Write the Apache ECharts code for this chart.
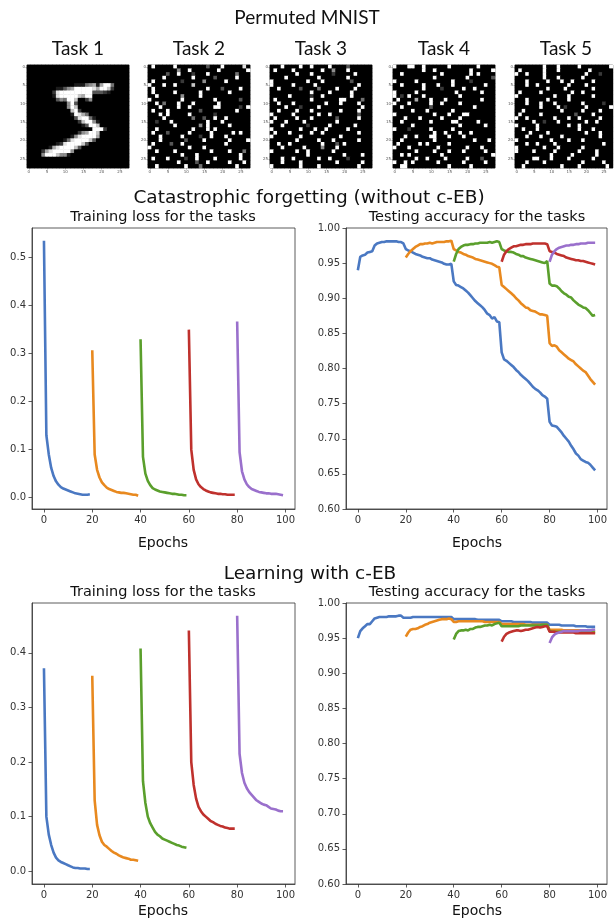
<!DOCTYPE html>
<html><head><meta charset="utf-8">
<script src="https://cdn.jsdelivr.net/npm/echarts@6/dist/echarts.min.js"></script>
<style>html,body{margin:0;padding:0;background:#fff}#c{width:614px;height:920px}</style>
</head><body><div id="c"></div>
<script>
// ---------- DATA ----------
const taskNames = ['Task 1', 'Task 2', 'Task 3', 'Task 4', 'Task 5'];
const pixelTicks = [0, 5, 10, 15, 20, 25];
const epochTicks = [0, 20, 40, 60, 80, 100];
const lossTicksTop = [0, 0.1, 0.2, 0.3, 0.4, 0.5];
const lossTicksBottom = [0, 0.1, 0.2, 0.3, 0.4];
const accTicks = [0.60, 0.65, 0.70, 0.75, 0.80, 0.85, 0.90, 0.95, 1.00];
const taskStarts = [0, 20, 40, 60, 80];

// Task 1 digit: [row, firstCol, intensities 0-9]
const digitRows = [
  [5, 12, '.11145616994'],
  [6, 8, '1135699999869972'],
  [7, 7, '2899999999933321'],
  [8, 7, '18999997699'],
  [9, 8, '354997..25'],
  [10, 9, '..593'],
  [11, 11, '597'],
  [12, 11, '.792'],
  [13, 12, '19864'],
  [14, 13, '389941'],
  [15, 14, '279951'],
  [16, 15, '13997'],
  [17, 18, '9992'],
  [18, 14, '256997'],
  [19, 12, '15899996'],
  [20, 10, '148999973'],
  [21, 8, '128999973'],
  [22, 6, '168999973'],
  [23, 4, '268999995'],
  [24, 4, '59997551']
];
// Permuted tasks (rows, '.' = black, 1-9 = grey level)
const perm2 = [
  '.9.....9........3...9.....8.', '........5..9.......9.......9', '.....3..9...2...9.......4...',
  '....9.......9.....3.....9...', '.9.......2.....5.....9......', '9...9..9....7...............',
  '.9..............9...3....9..', '.9.....9......9.......9.....', '..9......5....9.............',
  '9........9........9......3..', '..9.4...9...9......9........', '...9....9..9......99.....2.9',
  '.9...9........3.........9...', '...9.9.....9......2.........', '....9.......4..3..9..9......',
  '..2...9.........9...9.......', '.......9......5.9.....9.....', '..9.........9...9.9.........',
  '.9...3.....9.....9.....9.9..', '...9.....9....2..9...9......', '...9......3....9......9....9',
  '.9....3..9...........9......', '9..........9...9............', '..9....9.........9....9...4.',
  '.........9...9...........9..', '.9...9....2..9....9......9..', '........9....3..9.....9...9.',
  '..9.......9...4.........9...'
];
const perm3 = [
  '...9....9..9....9....3......', '.9....9.......9..5...9......', '.......9...9.....2.....9....',
  '....9........9.......9......', '9.........9...9.......3.....', '9.....9.....9...........9...',
  '..9.....3....4....9....9....', '...........9....9.....9.....', '.....9.....2..9.......9.....',
  '.9.........9.......99....4..', '..9...9........9...9....9...', '....9...2....9...........9..',
  '..9....9...9.......9....9...', '9.....9......9..9.......3...', '.9.....9...9......3.....9...',
  '9...9....9........9.........', '...9......2.....9......9....', '9.......9...9..9.....9......',
  '.9...9.....9..9.........9...', '9.......9..........9........', '.......9.....9...9......9...',
  '..9..9........9...3.9.......', '...9.....9....5...9.........', '9......9..9......9..........',
  '..........9.........9....9..', '...9..9......9..9....2......', '...9....9.........9......9..',
  '9.......9....9..........9...'
];
const perm4 = [
  '9...99..9......9.......9....', '........9..9.........9.....9', '..9..........9.......9.9....',
  '...........9........9......3', '9.....9.........9....2......', '..9.....9...9...9........9..',
  '........9....2.....9..9.....', '9.....9..........9......9...', '9.2.9...9.........9.........',
  '.9....6...9...9.........9...', '9...9.....9..9....9.........', '..9.......3...........9.....',
  '.....9...9......9...........', '9..........9...9...99.......', '...9...9.....9....9.........',
  '..9.......9.....99.....9....', '.....9............9......9..', '9...2.....9.....9...........',
  '...........9..9...9..9......', '...9..9...99...9...9........', '..9........9..........9...9.',
  '.9.....9.9.....9............', '9...9.......9.......9...9...', '......9....9...9...9.....9..',
  '..9.9........9.............9', '......9..9....9.....9...3...', '9..9.9......9......9.....9..',
  '..99...........9.....9......'
];
const perm5 = [
  '........9...9.....9........9', '.9......9...9........9......', '9..9....9...........9...2...',
  '........9...9......9........', '...9.....9...9..9.....9.....', '...9..9........9....9.......',
  '.........9....9.......9.....', '.9.....9........9..9........', '9..........9...9......9.....',
  '...9.....9.....9............', '...9...9...9.......9.....2..', '.......9....9.2.....9......9',
  '..9..........9.....9....9...', '.9.....9.........3....9.....', '9..9.......9...9..9.....9...',
  '.....9..2...9.......9..9....', '9.....9........9..9.........', '..9...9...........9...9.....',
  '....9....9..........9...9...', '...9...9.....9..........9...', '9.........9....9...9........',
  '...9..9....9.............9..', '9.......9...9......9........', '9....9.....9......9....9....',
  '..........9.....9......9....', '.....99...9....9......9.....', '...9....9..........9.....9..',
  '..9..........9....9.......9.'
];

// Catastrophic forgetting: training loss per task (20 epochs each)
const cfLoss1 = [0.535, 0.13, 0.09, 0.062, 0.045, 0.034, 0.027, 0.022, 0.019, 0.017, 0.015, 0.013, 0.011, 0.009, 0.008, 0.007, 0.006, 0.006, 0.006, 0.007];
const cfLoss2 = [0.307, 0.09, 0.058, 0.042, 0.032, 0.026, 0.021, 0.018, 0.016, 0.014, 0.012, 0.011, 0.010, 0.010, 0.009, 0.008, 0.007, 0.006, 0.006, 0.004];
const cfLoss3 = [0.330, 0.085, 0.050, 0.035, 0.026, 0.020, 0.017, 0.015, 0.013, 0.012, 0.011, 0.010, 0.009, 0.008, 0.008, 0.007, 0.006, 0.006, 0.005, 0.005];
const cfLoss4 = [0.350, 0.10, 0.058, 0.038, 0.028, 0.022, 0.018, 0.015, 0.013, 0.011, 0.010, 0.009, 0.008, 0.008, 0.007, 0.007, 0.006, 0.006, 0.006, 0.006];
const cfLoss5 = [0.367, 0.095, 0.055, 0.038, 0.028, 0.022, 0.018, 0.016, 0.014, 0.012, 0.011, 0.010, 0.009, 0.009, 0.008, 0.008, 0.008, 0.007, 0.006, 0.005];

// Catastrophic forgetting: testing accuracy of each task from its start to epoch 99
const cfAcc1 = [0.940, 0.959, 0.961, 0.962, 0.965, 0.966, 0.967, 0.975, 0.978, 0.979, 0.980, 0.980, 0.981, 0.981, 0.981, 0.981, 0.981, 0.980, 0.980, 0.978,
  0.970, 0.968, 0.967, 0.965, 0.963, 0.962, 0.961, 0.959, 0.958, 0.957, 0.957, 0.955, 0.954, 0.953, 0.952, 0.951, 0.949, 0.948, 0.948, 0.949,
  0.924, 0.919, 0.918, 0.916, 0.914, 0.911, 0.908, 0.904, 0.900, 0.896, 0.893, 0.890, 0.887, 0.883, 0.878, 0.876, 0.871, 0.873, 0.867, 0.866,
  0.823, 0.813, 0.811, 0.808, 0.805, 0.802, 0.798, 0.795, 0.791, 0.788, 0.785, 0.782, 0.778, 0.774, 0.771, 0.769, 0.766, 0.762, 0.760, 0.757,
  0.724, 0.719, 0.718, 0.717, 0.713, 0.709, 0.704, 0.700, 0.696, 0.690, 0.685, 0.679, 0.676, 0.671, 0.669, 0.667, 0.666, 0.663, 0.659, 0.655];
const cfAcc2 = [0.958, 0.963, 0.967, 0.970, 0.973, 0.975, 0.977, 0.977, 0.978, 0.978, 0.979, 0.978, 0.979, 0.980, 0.980, 0.980, 0.980, 0.981, 0.981, 0.982,
  0.970, 0.968, 0.966, 0.965, 0.963, 0.962, 0.960, 0.959, 0.958, 0.956, 0.955, 0.954, 0.953, 0.952, 0.951, 0.950, 0.949, 0.947, 0.945, 0.944,
  0.919, 0.916, 0.913, 0.910, 0.907, 0.904, 0.900, 0.897, 0.893, 0.890, 0.887, 0.886, 0.883, 0.882, 0.881, 0.879, 0.877, 0.877, 0.876, 0.875,
  0.836, 0.832, 0.833, 0.831, 0.826, 0.823, 0.820, 0.817, 0.814, 0.812, 0.810, 0.806, 0.803, 0.800, 0.797, 0.795, 0.790, 0.785, 0.781, 0.777];
const cfAcc3 = [0.952, 0.963, 0.970, 0.973, 0.975, 0.976, 0.976, 0.977, 0.977, 0.978, 0.978, 0.979, 0.979, 0.979, 0.979, 0.980, 0.979, 0.980, 0.981, 0.980,
  0.970, 0.968, 0.967, 0.966, 0.966, 0.965, 0.963, 0.962, 0.960, 0.960, 0.958, 0.957, 0.956, 0.955, 0.954, 0.953, 0.952, 0.951, 0.950, 0.953,
  0.921, 0.918, 0.918, 0.917, 0.914, 0.910, 0.907, 0.905, 0.902, 0.901, 0.897, 0.894, 0.891, 0.889, 0.887, 0.886, 0.883, 0.879, 0.875, 0.876];
const cfAcc4 = [0.952, 0.962, 0.967, 0.970, 0.972, 0.974, 0.974, 0.975, 0.976, 0.976, 0.977, 0.977, 0.977, 0.978, 0.978, 0.978, 0.978, 0.978, 0.978, 0.977,
  0.967, 0.966, 0.965, 0.963, 0.962, 0.961, 0.960, 0.958, 0.957, 0.956, 0.955, 0.954, 0.954, 0.953, 0.953, 0.952, 0.951, 0.950, 0.949, 0.948];
const cfAcc5 = [0.952, 0.962, 0.967, 0.970, 0.972, 0.973, 0.974, 0.975, 0.975, 0.976, 0.976, 0.977, 0.977, 0.978, 0.978, 0.978, 0.979, 0.979, 0.979, 0.979];

// Learning with c-EB: training loss
const ebLoss1 = [0.372, 0.10, 0.067, 0.048, 0.034, 0.025, 0.020, 0.017, 0.015, 0.013, 0.011, 0.009, 0.007, 0.006, 0.006, 0.005, 0.005, 0.005, 0.004, 0.004];
const ebLoss2 = [0.358, 0.13, 0.085, 0.066, 0.054, 0.048, 0.045, 0.041, 0.037, 0.034, 0.032, 0.029, 0.027, 0.025, 0.024, 0.023, 0.021, 0.021, 0.020, 0.019];
const ebLoss3 = [0.408, 0.165, 0.125, 0.100, 0.088, 0.080, 0.072, 0.067, 0.064, 0.060, 0.058, 0.056, 0.054, 0.052, 0.050, 0.048, 0.047, 0.045, 0.044, 0.043];
const ebLoss4 = [0.441, 0.200, 0.158, 0.133, 0.118, 0.110, 0.104, 0.100, 0.096, 0.092, 0.090, 0.087, 0.085, 0.083, 0.082, 0.080, 0.079, 0.078, 0.078, 0.078];
const ebLoss5 = [0.468, 0.215, 0.180, 0.162, 0.152, 0.145, 0.140, 0.135, 0.130, 0.127, 0.124, 0.122, 0.121, 0.118, 0.115, 0.114, 0.113, 0.111, 0.110, 0.110];

// Learning with c-EB: testing accuracy
const ebAcc1 = [0.950, 0.960, 0.964, 0.967, 0.970, 0.970, 0.974, 0.978, 0.979, 0.980, 0.980, 0.980, 0.980, 0.981, 0.981, 0.981, 0.981, 0.982, 0.982, 0.979,
  0.979, 0.979, 0.979, 0.980, 0.980, 0.980, 0.980, 0.980, 0.980, 0.980, 0.980, 0.980, 0.980, 0.980, 0.980, 0.980, 0.980, 0.980, 0.980, 0.980,
  0.977, 0.977, 0.977, 0.977, 0.977, 0.977, 0.977, 0.977, 0.977, 0.977, 0.976, 0.976, 0.976, 0.976, 0.976, 0.976, 0.976, 0.976, 0.976, 0.976,
  0.974, 0.974, 0.974, 0.974, 0.974, 0.973, 0.973, 0.973, 0.973, 0.973, 0.973, 0.973, 0.973, 0.972, 0.972, 0.972, 0.972, 0.972, 0.972, 0.972,
  0.969, 0.969, 0.969, 0.969, 0.969, 0.968, 0.968, 0.968, 0.968, 0.968, 0.968, 0.967, 0.967, 0.967, 0.967, 0.967, 0.966, 0.966, 0.966, 0.966];
const ebAcc2 = [0.952, 0.958, 0.962, 0.963, 0.963, 0.964, 0.966, 0.967, 0.969, 0.970, 0.972, 0.973, 0.974, 0.975, 0.976, 0.977, 0.977, 0.977, 0.978, 0.977,
  0.973, 0.973, 0.974, 0.974, 0.974, 0.974, 0.974, 0.974, 0.974, 0.974, 0.974, 0.974, 0.974, 0.973, 0.973, 0.973, 0.973, 0.973, 0.973, 0.973,
  0.970, 0.970, 0.970, 0.970, 0.970, 0.970, 0.970, 0.970, 0.970, 0.970, 0.969, 0.969, 0.969, 0.969, 0.969, 0.969, 0.969, 0.969, 0.969, 0.969,
  0.962, 0.962, 0.962, 0.962, 0.962, 0.962, 0.961, 0.961, 0.961, 0.961, 0.961, 0.961, 0.961, 0.961, 0.960, 0.960, 0.960, 0.960, 0.960, 0.960];
const ebAcc3 = [0.948, 0.956, 0.960, 0.961, 0.961, 0.962, 0.961, 0.963, 0.963, 0.965, 0.966, 0.966, 0.967, 0.968, 0.968, 0.969, 0.968, 0.970, 0.971, 0.972,
  0.967, 0.967, 0.967, 0.967, 0.967, 0.967, 0.967, 0.967, 0.968, 0.968, 0.968, 0.968, 0.968, 0.968, 0.968, 0.968, 0.968, 0.969, 0.969, 0.969,
  0.960, 0.959, 0.959, 0.959, 0.959, 0.959, 0.959, 0.959, 0.959, 0.959, 0.959, 0.959, 0.959, 0.959, 0.959, 0.959, 0.959, 0.958, 0.958, 0.958];
const ebAcc4 = [0.945, 0.952, 0.956, 0.958, 0.959, 0.960, 0.961, 0.961, 0.960, 0.961, 0.962, 0.962, 0.963, 0.964, 0.965, 0.966, 0.965, 0.966, 0.967, 0.967,
  0.959, 0.959, 0.959, 0.958, 0.958, 0.958, 0.958, 0.958, 0.958, 0.958, 0.958, 0.957, 0.957, 0.957, 0.957, 0.957, 0.957, 0.957, 0.957, 0.957];
const ebAcc5 = [0.943, 0.951, 0.955, 0.957, 0.958, 0.959, 0.960, 0.960, 0.960, 0.960, 0.960, 0.960, 0.960, 0.961, 0.961, 0.961, 0.961, 0.961, 0.962, 0.962];

// ---------- BUILD ----------
const colors = ['#4a78c2', '#e8891f', '#5a9f2c', '#bf312d', '#9a70cc'];
const FONT = 'DejaVu Sans';
const AX = '#333';

function gridFromDigit(rows) {
  const g = [];
  for (let r = 0; r < 28; r++) g.push(new Array(28).fill(0));
  rows.forEach(([r, c, s]) => { for (let i = 0; i < s.length; i++) g[r][c + i] = s[i] === '.' ? 0 : +s[i]; });
  return g;
}
function gridFromRows(rows) {
  return rows.map(s => s.padEnd(28, '.').slice(0, 28).split('').map(ch => ch === '.' ? 0 : +ch));
}
function cells(g) {
  const d = [];
  g.forEach((row, r) => row.forEach((v, c) => d.push([c, r, v])));
  return d;
}
const images = [gridFromDigit(digitRows), gridFromRows(perm2), gridFromRows(perm3), gridFromRows(perm4), gridFromRows(perm5)];
const pix = Array.from({length: 28}, (_, i) => String(i));

const imgLefts = [27, 148, 270, 393, 515];
const grids = [], xAxes = [], yAxes = [], series = [];
imgLefts.forEach((l, i) => {
  grids.push({left: l, top: 65, width: 102, height: 103, show: true, borderColor: '#222', borderWidth: 0.6, backgroundColor: '#000'});
  const lab = {fontSize: 4, color: '#555', fontFamily: FONT, margin: 2, interval: 0,
    formatter: v => (pixelTicks.indexOf(+v) >= 0 ? v : '')};
  const tick = {show: true, length: 1.5, lineStyle: {color: '#555', width: 0.5},
    interval: (idx) => pixelTicks.indexOf(idx) >= 0, alignWithLabel: true};
  xAxes.push({gridIndex: i, type: 'category', data: pix, axisLabel: lab, axisTick: tick,
    axisLine: {show: false}, splitLine: {show: false}});
  yAxes.push({gridIndex: i, type: 'category', data: pix, inverse: true, axisLabel: lab, axisTick: tick,
    axisLine: {show: false}, splitLine: {show: false}});
  series.push({type: 'heatmap', xAxisIndex: i, yAxisIndex: i, data: cells(images[i]), animation: false, silent: true});
});

const plots = [
  {left: 32, top: 228, width: 263, height: 281, ymin: -0.0236, ymax: 0.5616, ticks: lossTicksTop, dec: 1, sets: [cfLoss1, cfLoss2, cfLoss3, cfLoss4, cfLoss5]},
  {left: 346, top: 228, width: 261, height: 281, ymin: 0.6, ymax: 1.0, ticks: accTicks, dec: 2, sets: [cfAcc1, cfAcc2, cfAcc3, cfAcc4, cfAcc5]},
  {left: 32, top: 603, width: 263, height: 281, ymin: -0.0234, ymax: 0.4914, ticks: lossTicksBottom, dec: 1, sets: [ebLoss1, ebLoss2, ebLoss3, ebLoss4, ebLoss5]},
  {left: 346, top: 603, width: 261, height: 281, ymin: 0.6, ymax: 1.0, ticks: accTicks, dec: 2, sets: [ebAcc1, ebAcc2, ebAcc3, ebAcc4, ebAcc5]}
];
plots.forEach((p, k) => {
  const gi = 5 + k;
  grids.push({left: p.left, top: p.top, width: p.width, height: p.height, show: true, borderColor: AX, borderWidth: 0.8});
  xAxes.push({gridIndex: gi, type: 'value', min: -4.95, max: 103.95,
    axisLine: {show: true, onZero: false, lineStyle: {color: AX, width: 0.8}},
    axisTick: {show: true, length: 3.5, customValues: epochTicks, lineStyle: {color: AX, width: 0.8}},
    axisLabel: {customValues: epochTicks, fontSize: 10, color: AX, fontFamily: FONT, margin: 6},
    splitLine: {show: false}});
  yAxes.push({gridIndex: gi, type: 'value', min: p.ymin, max: p.ymax,
    axisLine: {show: true, onZero: false, lineStyle: {color: AX, width: 0.8}},
    axisTick: {show: true, length: 3.5, customValues: p.ticks, lineStyle: {color: AX, width: 0.8}},
    axisLabel: {customValues: p.ticks, fontSize: 10, color: AX, fontFamily: FONT, margin: 6,
      formatter: v => (+v).toFixed(p.dec)},
    splitLine: {show: false}});
  p.sets.forEach((vals, t) => {
    series.push({type: 'line', xAxisIndex: gi, yAxisIndex: gi, showSymbol: false, symbol: 'none',
      data: vals.map((v, i) => [taskStarts[t] + i, v]), animation: false, silent: true,
      lineStyle: {color: colors[t], width: 2.6}, itemStyle: {color: colors[t]}});
  });
});

function txt(text, x, y, size, family) {
  return {type: 'text', x: x, y: y, silent: true,
    style: {text: text, fontSize: size, fontFamily: family || FONT, fill: '#111', textAlign: 'center', textVerticalAlign: 'middle'}};
}
const graphic = [
  txt('Permuted MNIST', 307, 18, 19, 'Lato'),
  ...taskNames.map((n, i) => txt(n, imgLefts[i] + 51, 49, 19, 'Lato')),
  txt('Catastrophic forgetting (without c-EB)', 309, 198, 18.5),
  txt('Training loss for the tasks', 163, 217, 14.5),
  txt('Testing accuracy for the tasks', 477, 217, 14.5),
  txt('Epochs', 163, 543, 14),
  txt('Epochs', 477, 543, 14),
  txt('Learning with c-EB', 310, 574, 18.5),
  txt('Training loss for the tasks', 163, 592, 14.5),
  txt('Testing accuracy for the tasks', 477, 592, 14.5),
  txt('Epochs', 163, 911, 14),
  txt('Epochs', 477, 911, 14)
];

const chart = echarts.init(document.getElementById('c'), null, {renderer: 'canvas'});
chart.setOption({
  animation: false,
  backgroundColor: '#fff',
  grid: grids, xAxis: xAxes, yAxis: yAxes,
  visualMap: {show: false, type: 'continuous', min: 0, max: 9, seriesIndex: [0, 1, 2, 3, 4],
    inRange: {color: ['#000000', '#ffffff']}},
  graphic: graphic,
  series: series
});
</script></body></html>
